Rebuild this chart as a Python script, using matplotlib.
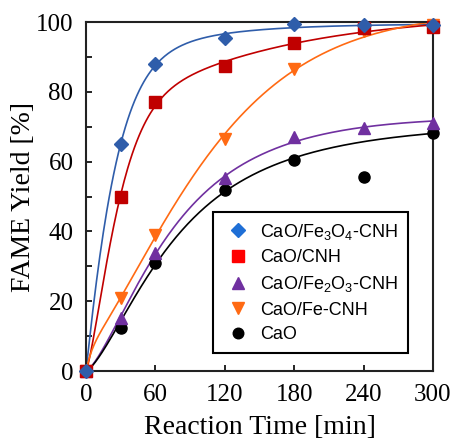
import matplotlib
matplotlib.use("Agg")
import matplotlib.pyplot as plt
import numpy as np
from matplotlib.lines import Line2D

# ===== data =====
TIME_MIN = [0, 30, 60, 120, 180, 240, 300]

YIELD_FE3O4_CNH = [0, 65, 88, 95.5, 99.5, 99, 99]
YIELD_CNH = [0, 50, 77, 87.5, 94, 98.3, 98.5]
YIELD_FE2O3_CNH = [0, 15.2, 33.8, 55.3, 67, 69.6, 71.2]
YIELD_FE_CNH = [0, 21, 39, 66.5, 86.5, 97.5, 99]
YIELD_CAO = [0, 12.3, 31, 52, 60.5, 55.7, 68.2]

LABELS = [
    "CaO/Fe$_\\mathregular{3}$O$_\\mathregular{4}$-CNH",
    "CaO/CNH",
    "CaO/Fe$_\\mathregular{2}$O$_\\mathregular{3}$-CNH",
    "CaO/Fe-CNH",
    "CaO",
]

# 近似曲線の基底: 1 - exp(-(t/tau)^n) の非負結合
TAUS = [5, 15, 30, 60, 120, 250, 600]
SHAPES = [1.0, 1.4]
ROBUST_C = 5.0  # 残差がこれを超える点は外れ値扱い（Tukey）

plt.rcParams["mathtext.fontset"] = "custom"
plt.rcParams["mathtext.rm"] = "Liberation Sans"


def basis(t):
    t = np.asarray(t, dtype=float)
    return np.stack(
        [1 - np.exp(-((t / tau) ** n)) for tau in TAUS for n in SHAPES], axis=1
    )


def nnls_cd(B, y, w, n_iter=4000):
    """重み付き非負最小二乗（座標降下）"""
    G = B.T @ (w[:, None] * B)
    b = B.T @ (w * y)
    c = np.zeros(B.shape[1])
    for _ in range(n_iter):
        for j in range(len(c)):
            c[j] = max(0.0, c[j] + (b[j] - G[j] @ c) / G[j, j])
    return c


def fit_curve(t, y):
    B = basis(t)
    y = np.asarray(y, dtype=float)
    w = np.ones_like(y)
    for _ in range(3):
        c = nnls_cd(B, y, w)
        r = y - B @ c
        u = np.clip(np.abs(r) / ROBUST_C, 0, 1)
        w = (1 - u**2) ** 2 + 1e-6
    return c


series = [
    (YIELD_FE3O4_CNH, "#2F5DAA", "D", 7.5),
    (YIELD_CNH, "#C00000", "s", 9),
    (YIELD_FE2O3_CNH, "#7030A0", "^", 9),
    (YIELD_FE_CNH, "#FF6A13", "v", 9),
    (YIELD_CAO, "black", "o", 8),
]
legend_colors = ["#1F6FD6", "#FF0000", "#7030A0", "#FF6A13", "black"]

fig = plt.figure(figsize=(4.62, 4.41), dpi=100)
ax = fig.add_axes([0.1861, 0.1587, 0.7511, 0.7914])

tt = np.linspace(0, 300, 301)
# 曲線を先に描く
for y, color, marker, ms in series:
    c = fit_curve(TIME_MIN, y)
    ax.plot(tt, basis(tt) @ c, color=color, lw=1.2, zorder=2)

# 点は後から（CaO が下、Fe3O4-CNH が上）
for i, (y, color, marker, ms) in enumerate(reversed(series)):
    ax.plot(TIME_MIN, y, linestyle="none", marker=marker, ms=ms, color=color,
            clip_on=False, zorder=3 + i)

ax.set_xlim(0, 300)
ax.set_ylim(0, 100)
ax.set_xticks([0, 60, 120, 180, 240, 300])
ax.set_yticks(range(0, 101, 20))
ax.set_yticks(range(10, 100, 20), minor=True)
ax.tick_params(axis="both", which="both", direction="in", length=4, width=1.2,
               labelsize=18, pad=9)
ax.tick_params(axis="y", which="both", right=False)
ax.tick_params(axis="x", which="both", top=False)
for lab in ax.get_xticklabels() + ax.get_yticklabels():
    lab.set_family("Liberation Serif")
for sp in ax.spines.values():
    sp.set_linewidth(1.5)
    sp.set_color("#222222")

ax.set_xlabel("Reaction Time [min]", family="Liberation Serif", fontsize=20,
              labelpad=7)
ax.set_ylabel("FAME Yield [%]", family="Liberation Serif", fontsize=20,
              labelpad=0)

handles = [
    Line2D([], [], linestyle="none", marker=m, ms=ms * 0.95, color=c)
    for (y, _, m, ms), c in zip(series, legend_colors)
]
leg = ax.legend(handles, LABELS, loc="upper left", bbox_to_anchor=(0.367, 0.456),
                prop={"family": "Liberation Sans", "size": 13}, frameon=True,
                fancybox=False, edgecolor="black", framealpha=1,
                handlelength=1.6, handletextpad=0.45, labelspacing=0.42,
                borderpad=0.55, borderaxespad=0)
leg.get_frame().set_linewidth(1.5)

fig.savefig("out.png", dpi=100)
